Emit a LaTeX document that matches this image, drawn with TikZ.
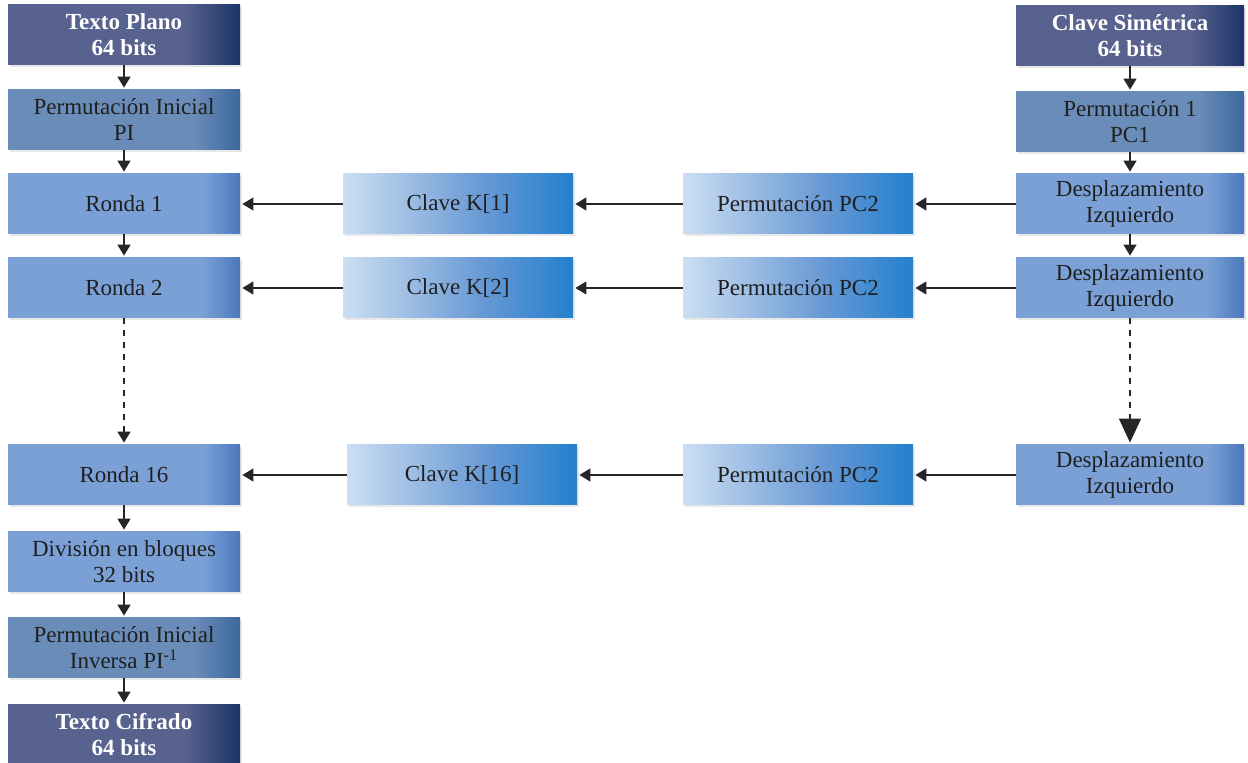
\documentclass[tikz,border=0pt]{standalone}
\usepackage{fontspec}
\setmainfont{Liberation Serif}
\usetikzlibrary{arrows.meta,shadows}

\definecolor{oscuroA}{RGB}{88,98,142}
\definecolor{oscuroB}{RGB}{28,52,104}
\definecolor{permA}{RGB}{106,140,184}
\definecolor{permB}{RGB}{60,104,156}
\definecolor{rondaA}{RGB}{122,160,214}
\definecolor{rondaB}{RGB}{74,120,188}
\definecolor{claveA}{RGB}{204,222,243}
\definecolor{claveB}{RGB}{36,128,206}

% la caja ocupa de 25bp a 75bp
\pgfdeclarehorizontalshading{sombraOscuro}{100bp}{color(0bp)=(oscuroA); color(63bp)=(oscuroA); color(75bp)=(oscuroB); color(100bp)=(oscuroB)}
\pgfdeclarehorizontalshading{sombraPerm}{100bp}{color(0bp)=(permA); color(65bp)=(permA); color(75bp)=(permB); color(100bp)=(permB)}
\pgfdeclarehorizontalshading{sombraRonda}{100bp}{color(0bp)=(rondaA); color(67bp)=(rondaA); color(75bp)=(rondaB); color(100bp)=(rondaB)}
\pgfdeclarehorizontalshading{sombraClave}{100bp}{color(0bp)=(claveA); color(25bp)=(claveA); color(55bp)=(rondaA!80!claveB); color(75bp)=(claveB); color(100bp)=(claveB)}

\tikzset{
	caja/.style={minimum width=116pt, minimum height=30pt, inner sep=0pt, align=center,
		font=\fontsize{11.5}{13}\selectfont, text=black!88,
		drop shadow={shadow xshift=1pt, shadow yshift=-1.2pt, opacity=0.18}},
	oscuro/.style={caja, shading=sombraOscuro, text=white, font=\fontsize{11.5}{13}\selectfont\bfseries},
	perm/.style={caja, shading=sombraPerm},
	ronda/.style={caja, shading=sombraRonda},
	clave/.style={caja, shading=sombraClave, minimum width=115pt},
	flecha/.style={draw=black!85, line width=0.75pt, -{Triangle[width=6.5pt,length=5.5pt]}, shorten >=1pt},
}

\begin{document}
\begin{tikzpicture}[x=0.5pt,y=-0.5pt]
	\useasboundingbox (0,0) rectangle (1248,763);
	% columna de datos
	\node[oscuro] (plano) at (124,35) {Texto Plano\\64 bits};
	\node[perm] (pi) at (124,120) {Permutación Inicial\\PI};
	\node[ronda] (r1) at (124,204) {Ronda 1};
	\node[ronda] (r2) at (124,288) {Ronda 2};
	\node[ronda] (r16) at (124,475) {Ronda 16};
	\node[ronda] (div) at (124,562) {División en bloques\\32 bits};
	\node[perm] (inv) at (124,648) {Permutación Inicial\\Inversa PI\textsuperscript{-1}};
	\node[oscuro] (cifrado) at (124,735) {Texto Cifrado\\64 bits};
	% subclaves
	\node[clave] (k1) at (458,204) {Clave K[1]};
	\node[clave] (k2) at (458,288) {Clave K[2]};
	\node[clave] (k16) at (462,475) {Clave K[16]};
	\node[clave] (pc2a) at (798,204) {Permutación PC2};
	\node[clave] (pc2b) at (798,288) {Permutación PC2};
	\node[clave] (pc2c) at (798,475) {Permutación PC2};
	% columna de la clave
	\node[oscuro, minimum width=114pt] (simetrica) at (1130,36) {Clave Simétrica\\64 bits};
	\node[perm, minimum width=114pt] (pc1) at (1130,122) {Permutación 1\\PC1};
	\node[ronda, minimum width=114pt] (d1) at (1130,204) {Desplazamiento\\Izquierdo};
	\node[ronda, minimum width=114pt] (d2) at (1130,288) {Desplazamiento\\Izquierdo};
	\node[ronda, minimum width=114pt] (d16) at (1130,475) {Desplazamiento\\Izquierdo};

	\foreach \a/\b in {plano/pi, pi/r1, r1/r2, r16/div, div/inv, inv/cifrado, simetrica/pc1, pc1/d1, d1/d2}
		\draw[flecha] (\a) -- (\b);
	\foreach \d/\p/\k/\r in {d1/pc2a/k1/r1, d2/pc2b/k2/r2, d16/pc2c/k16/r16}
	{
		\draw[flecha] (\d) -- (\p);
		\draw[flecha] (\p) -- (\k);
		\draw[flecha] (\k) -- (\r);
	}
	\draw[flecha, dashed] (r2) -- (r16);
	\draw[draw=black!85, line width=0.75pt, dashed, -{Triangle[width=11pt,length=12pt]}, shorten >=1pt] (d2) -- (d16);
\end{tikzpicture}
\end{document}
